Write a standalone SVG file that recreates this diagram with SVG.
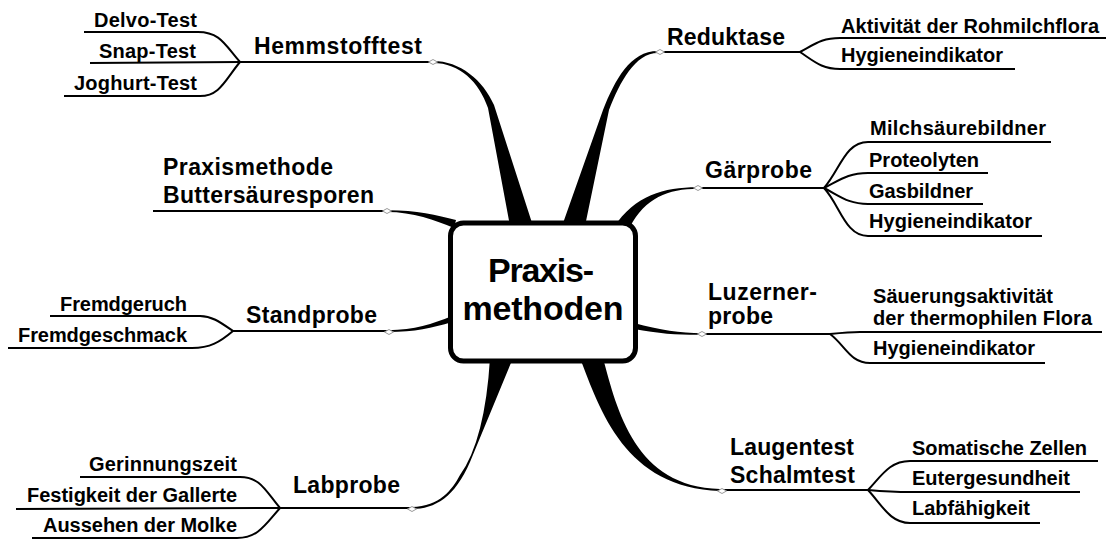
<svg xmlns="http://www.w3.org/2000/svg" xmlns:xlink="http://www.w3.org/1999/xlink" width="1106" height="540" viewBox="0 0 1106 540">
<style>
.ln{fill:none;stroke:#000;stroke-width:2}
.tp{fill:#000;stroke:none}
.b{font-family:"Liberation Sans",Arial,sans-serif;font-weight:bold;font-size:23px;fill:#000}
.c{font-family:"Liberation Sans",Arial,sans-serif;font-weight:bold;font-size:20px;fill:#000}
.ctr{font-family:"Liberation Sans",Arial,sans-serif;font-weight:bold;font-size:34px;fill:#000;text-anchor:middle}
</style>
<defs>
<path id="dm" d="M-4.5,0 L0,-2.5 L4.5,0 L0,2.5 Z" fill="#fff" stroke="#999" stroke-width="1"/>
</defs>
<rect width="1106" height="540" fill="#fff"/>
<g id="connectors">
<path class="tp" d="M433,61 C460,61 483,80 494,105 L533,226 L510,226 L488,108 C479,82 460,63 433,63 Z"/>
<path class="tp" d="M658,51 C630,51 615,80 603,110 L562,226 L585,226 L609,110 C620,82 635,53 658,53 Z"/>
<path class="tp" d="M490,358 L513,358 L470,462 C455,497 435,509 412,509 L412,507 C440,506 452,490 460,475 Q485,440 490,358 Z"/>
<path class="tp" d="M580,358 C600,410 625,488 720,491 L720,489 C635,487 617,410 603,358 Z"/>
<path class="tp" d="M387,210.2 C415,210 437,215 456,220 L454,228 C435,220 413,212 387,212 Z"/>
<path class="tp" d="M388,330.2 C415,330 432,324 452,316 L452,322 C432,328 415,332 388,332 Z"/>
<path class="tp" d="M634,323 C660,330 680,333 702,333.2 L702,334.8 C680,335 660,334 634,329 Z"/>
<path class="tp" d="M614,227 C635,195 665,187 698,187.2 L698,188.8 C668,189 645,198 630,227 Z"/>
<path class="ln" d="M433,62 L240,62"/>
<path class="ln" d="M240,62 C225,45 220,32 198,32 L84,32"/>
<path class="ln" d="M240,62 L90,63"/>
<path class="ln" d="M240,62 C225,80 220,96 200,96 L64,96"/>
<path class="ln" d="M660,52 L800,52"/>
<path class="ln" d="M800,52 C815,44 822,38 840,38 L1106,38"/>
<path class="ln" d="M800,52 C815,62 822,69 840,69 L1015,69"/>
<path class="ln" d="M698,188 L824,188"/>
<path class="ln" d="M824,188 C840,170 845,142 868,142 L1051,142"/>
<path class="ln" d="M824,188 C840,180 848,173 868,173 L988,173"/>
<path class="ln" d="M824,188 C840,196 848,204 868,204 L983,204"/>
<path class="ln" d="M824,188 C840,205 845,236 868,236 L1042,236"/>
<path class="ln" d="M387,211 L153,211"/>
<path class="ln" d="M388,331 L233,331"/>
<path class="ln" d="M233,331 C220,322 212,316 200,316 L50,316"/>
<path class="ln" d="M233,331 C220,342 210,348 192,348 L8,348"/>
<path class="ln" d="M702,334 L830,334 C840,333 850,332 860,332 L1102,332"/>
<path class="ln" d="M830,334 C845,345 850,363 870,363 L1045,363"/>
<path class="ln" d="M722,490 L868,490"/>
<path class="ln" d="M868,490 C882,475 890,461 910,461 L1098,461"/>
<path class="ln" d="M868,490 C880,491 895,492 910,492 L1080,492"/>
<path class="ln" d="M868,490 C882,505 890,523 910,523 L1040,523"/>
<path class="ln" d="M412,508 L280,508"/>
<path class="ln" d="M280,508 C265,490 260,477 240,477 L80,477"/>
<path class="ln" d="M280,508 L16,509"/>
<path class="ln" d="M280,508 C265,525 258,538 237,538 L32,538"/>
<use xlink:href="#dm" x="433" y="62"/>
<use xlink:href="#dm" x="660" y="52"/>
<use xlink:href="#dm" x="698" y="188"/>
<use xlink:href="#dm" x="387" y="211"/>
<use xlink:href="#dm" x="389" y="332"/>
<use xlink:href="#dm" x="702" y="334"/>
<use xlink:href="#dm" x="722" y="491"/>
<use xlink:href="#dm" x="412" y="509"/>
</g>
<g id="center">
<rect x="450.5" y="223" width="185" height="138" rx="13" fill="#fff" stroke="#000" stroke-width="5"/>
<text class="ctr" x="541" y="282" textLength="106">Praxis-</text>
<text class="ctr" x="543" y="320" textLength="161">methoden</text>
</g>
<g id="hemmstofftest">
<text class="b" x="254" y="54" textLength="168">Hemmstofftest</text>
<text class="c" x="94" y="27" textLength="103">Delvo-Test</text>
<text class="c" x="99" y="58" textLength="97">Snap-Test</text>
<text class="c" x="74" y="90" textLength="123">Joghurt-Test</text>
</g>
<g id="reduktase">
<text class="b" x="667" y="45" textLength="118">Reduktase</text>
<text class="c" x="841" y="33" textLength="258">Aktivität der Rohmilchflora</text>
<text class="c" x="841" y="62" textLength="162">Hygieneindikator</text>
</g>
<g id="gaerprobe">
<text class="b" x="705" y="178" textLength="107">Gärprobe</text>
<text class="c" x="870" y="135" textLength="176">Milchsäurebildner</text>
<text class="c" x="869" y="167" textLength="110">Proteolyten</text>
<text class="c" x="869" y="198" textLength="104">Gasbildner</text>
<text class="c" x="869" y="228" textLength="163">Hygieneindikator</text>
</g>
<g id="buttersaeure">
<text class="b" x="163" y="175" textLength="170">Praxismethode</text>
<text class="b" x="163" y="203" textLength="211">Buttersäuresporen</text>
</g>
<g id="standprobe">
<text class="b" x="246" y="323" textLength="131">Standprobe</text>
<text class="c" x="60" y="311" textLength="127">Fremdgeruch</text>
<text class="c" x="18" y="342" textLength="169">Fremdgeschmack</text>
</g>
<g id="luzernerprobe">
<text class="b" x="708" y="300" textLength="109">Luzerner-</text>
<text class="b" x="708" y="324" textLength="65">probe</text>
<text class="c" x="873" y="303" textLength="180">Säuerungsaktivität</text>
<text class="c" x="873" y="325" textLength="219">der thermophilen Flora</text>
<text class="c" x="873" y="355" textLength="162">Hygieneindikator</text>
</g>
<g id="laugentest">
<text class="b" x="730" y="455" textLength="124">Laugentest</text>
<text class="b" x="730" y="483" textLength="125">Schalmtest</text>
<text class="c" x="912" y="455" textLength="175">Somatische Zellen</text>
<text class="c" x="912" y="485" textLength="158">Eutergesundheit</text>
<text class="c" x="912" y="515" textLength="118">Labfähigkeit</text>
</g>
<g id="labprobe">
<text class="b" x="293" y="493" textLength="107">Labprobe</text>
<text class="c" x="89" y="471" textLength="148">Gerinnungszeit</text>
<text class="c" x="27" y="502" textLength="210">Festigkeit der Gallerte</text>
<text class="c" x="43" y="532" textLength="194">Aussehen der Molke</text>
</g>
</svg>
